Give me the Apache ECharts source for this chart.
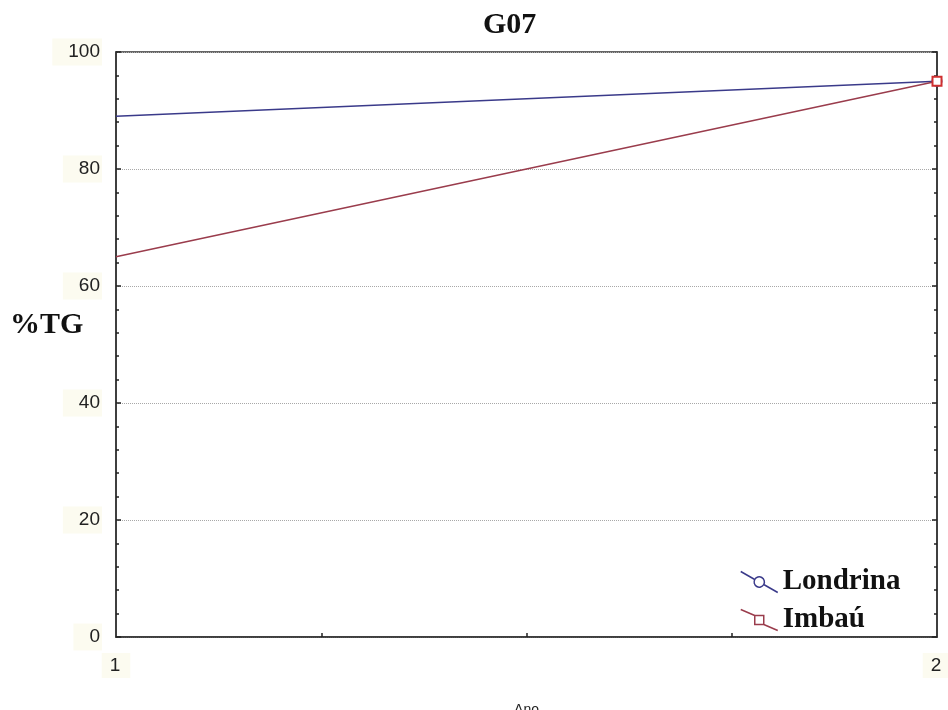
<!DOCTYPE html>
<html>
<head>
<meta charset="utf-8">
<script src="https://cdn.jsdelivr.net/npm/echarts@6/dist/echarts.min.js"></script>
<style>
  html, body { margin: 0; padding: 0; background: #fff; }
  #chart { width: 948px; height: 710px; }
</style>
</head>
<body>
<div id="chart"></div>
<script>
// Year index (1, 2) and %TG per locality
const years = [1, 2];
const londrina = [89, 95];
const imbau = [65, 95];
const yTicks = [0, 20, 40, 60, 80, 100];
const seriesNames = ['Londrina', 'Imbaú'];

const colorLondrina = '#3a3a8a';
const colorImbau = '#9a3c4c';

const chart = echarts.init(document.getElementById('chart'));

// legend glyphs: a short diagonal stroke broken by the series marker
const circleIcon = 'path://M0,0 L14,8 M23,13 L37,21 M14,8 A4.8,4.8 0 1,1 23,13 A4.8,4.8 0 1,1 14,8';
const squareIcon = 'path://M0,0 L14,6 M23,15 L37,21 M14,6 L23,6 L23,15 L14,15 Z';

const labelBg = '#fcfbf0';

function pairs(vals) {
  return years.map((x, i) => [x, vals[i]]);
}

chart.setOption({
  animation: false,
  backgroundColor: '#ffffff',
  title: {
    text: 'G07',
    left: 478,
    top: 5,
    textStyle: { fontFamily: 'Liberation Serif', fontWeight: 'bold', fontSize: 30, color: '#111' }
  },
  grid: {
    left: 116, right: 11, top: 52, bottom: 73,
    containLabel: false,
    outerBoundsMode: 'none',
    show: true, borderColor: '#333', borderWidth: 1.5, backgroundColor: 'transparent'
  },
  legend: {
    orient: 'vertical',
    left: 735,
    top: 562,
    itemWidth: 37,
    itemHeight: 21,
    itemGap: 8,
    data: [
      { name: seriesNames[0], icon: circleIcon,
        itemStyle: { color: 'transparent', borderColor: colorLondrina, borderWidth: 1.5 } },
      { name: seriesNames[1], icon: squareIcon,
        itemStyle: { color: 'transparent', borderColor: colorImbau, borderWidth: 1.5 } }
    ],
    textStyle: { fontFamily: 'Liberation Serif', fontWeight: 'bold', fontSize: 29, lineHeight: 30, color: '#111' }
  },
  xAxis: {
    type: 'value',
    min: 1, max: 2, interval: 1,
    name: 'Ano',
    nameLocation: 'middle',
    nameGap: 66,
    nameTextStyle: { fontFamily: 'Liberation Sans', fontSize: 14, color: '#222' },
    axisLine: { lineStyle: { color: '#333', width: 1.5 } },
    axisTick: { show: false, inside: true },
    minorTick: { show: true, splitNumber: 4, length: 4, lineStyle: { color: '#222', width: 1.5 } },
    splitLine: { show: false },
    axisLabel: {
      fontFamily: 'Liberation Sans', fontSize: 19, color: '#222', margin: 16,
      backgroundColor: labelBg, padding: [3, 10, 3, 8]
    }
  },
  yAxis: [
    {
      type: 'value',
      min: 0, max: 100, interval: 20,
      axisLine: { show: true, lineStyle: { color: '#333', width: 1.5 } },
      axisTick: { show: true, inside: true, length: 5, lineStyle: { color: '#222', width: 1.5 } },
      minorTick: { show: true, splitNumber: 5, length: 3, lineStyle: { color: '#222', width: 1.5 } },
      splitLine: { show: true, lineStyle: { color: '#a8a8a8', type: 'dotted', width: 1 } },
      axisLabel: {
        fontFamily: 'Liberation Sans', fontSize: 19, color: '#222', margin: 14,
        backgroundColor: labelBg, padding: [4, 2, 4, 16],
        formatter: v => yTicks.includes(v) ? String(v) : ''
      }
    },
    {
      type: 'value',
      position: 'right',
      min: 0, max: 100, interval: 20,
      axisLine: { show: true, lineStyle: { color: '#333', width: 1.5 } },
      axisTick: { show: true, inside: true, length: 5, lineStyle: { color: '#222', width: 1.5 } },
      minorTick: { show: true, splitNumber: 5, length: 3, lineStyle: { color: '#222', width: 1.5 } },
      splitLine: { show: false },
      axisLabel: { show: false }
    }
  ],
  graphic: [
    {
      type: 'text',
      left: 10,
      top: 310,
      z: 100,
      style: { text: '%TG', font: 'bold 30px "Liberation Serif"', fill: '#111' }
    }
  ],
  series: [
    {
      name: seriesNames[0],
      type: 'line',
      data: pairs(londrina),
      symbol: (v, p) => p.dataIndex === 0 ? 'none' : 'emptyCircle',
      symbolSize: 9,
      clip: true,
      color: colorLondrina,
      lineStyle: { width: 1.5, color: colorLondrina },
      itemStyle: { color: colorLondrina, borderWidth: 1.5 }
    },
    {
      name: seriesNames[1],
      type: 'line',
      data: pairs(imbau),
      symbol: (v, p) => p.dataIndex === 0 ? 'none' : 'emptyRect',
      symbolSize: 9,
      clip: true,
      color: colorImbau,
      lineStyle: { width: 1.5, color: colorImbau },
      itemStyle: { color: '#d03030', borderWidth: 1.5 }
    }
  ]
});
</script>
</body>
</html>
